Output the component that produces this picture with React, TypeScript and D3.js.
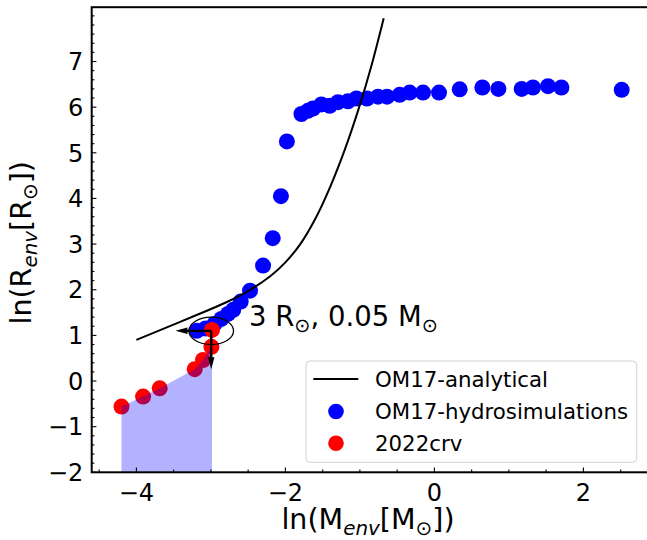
import React from "react";
import * as d3 from "d3";

// ---- data ----
const BLUE_X = [-3.19, -3.07, -2.95, -2.86, -2.77, -2.70, -2.60, -2.475, -2.30, -2.17, -2.06, -1.98,
  -1.785, -1.697, -1.630, -1.517, -1.405, -1.294, -1.160, -1.047, -0.905, -0.757, -0.636, -0.466,
  -0.332, -0.153, 0.062, 0.34, 0.644, 0.859, 1.172, 1.323, 1.525, 1.705, 2.514];
const BLUE_Y = [1.10, 1.15, 1.25, 1.36, 1.47, 1.56, 1.74, 1.98, 2.53, 3.13, 4.05, 5.25,
  5.85, 5.92, 5.97, 6.06, 6.03, 6.11, 6.13, 6.19, 6.19, 6.23, 6.23, 6.27,
  6.32, 6.32, 6.32, 6.39, 6.43, 6.40, 6.40, 6.43, 6.46, 6.43, 6.38];

const RED_X = [-4.20, -3.91, -3.687, -3.217, -3.106, -2.993, -2.985];
const RED_Y = [-0.56, -0.34, -0.16, 0.26, 0.46, 0.75, 1.12];

const LINE_X = [-4.0, -3.6, -3.2, -2.8, -2.5, -2.2, -2.0, -1.8, -1.6, -1.4, -1.2, -1.0, -0.85, -0.68];
const LINE_Y = [0.90, 1.17, 1.44, 1.72, 1.97, 2.30, 2.60, 3.00, 3.55, 4.25, 5.08, 6.05, 6.88, 7.95];

const X_TICKS = [-4, -2, 0, 2];
const Y_TICKS = [-2, -1, 0, 1, 2, 3, 4, 5, 6, 7];

const MARK_X = Math.log(0.05);
const MARK_Y = Math.log(3);
const ELLIPSE_W = 0.6;
const ELLIPSE_H = 0.6;
const ARROW_DX = -0.48;
const ARROW_DY = -0.84;

const LEGEND_LABELS = ["OM17-analytical", "OM17-hydrosimulations", "2022crv"];

const FONT = "DejaVu Sans, sans-serif";

type Part = { t: string; sub?: boolean; it?: boolean };

function rich(parts: Part[], fs: number) {
  const out: any[] = [];
  let shifted = false;
  const shift = fs * 0.2;
  parts.forEach((p, i) => {
    let dy = 0;
    if (p.sub && !shifted) { dy = shift; shifted = true; }
    else if (!p.sub && shifted) { dy = -shift; shifted = false; }
    out.push(
      <tspan key={i} dy={dy} fontSize={p.sub ? fs * 0.7 : fs} fontStyle={p.it ? "italic" : "normal"}>
        {p.t}
      </tspan>
    );
  });
  return out;
}

function arrowPoly(x0: number, y0: number, x1: number, y1: number, w: number, hw: number, hl: number) {
  const dx = x1 - x0, dy = y1 - y0;
  const L = Math.hypot(dx, dy);
  const ux = dx / L, uy = dy / L;
  const nx = -uy, ny = ux;
  const bx = x1 - ux * hl, by = y1 - uy * hl;
  const pts = [
    [x0 + nx * w / 2, y0 + ny * w / 2],
    [bx + nx * w / 2, by + ny * w / 2],
    [bx + nx * hw / 2, by + ny * hw / 2],
    [x1, y1],
    [bx - nx * hw / 2, by - ny * hw / 2],
    [bx - nx * w / 2, by - ny * w / 2],
    [x0 - nx * w / 2, y0 - ny * w / 2],
  ];
  return pts.map((p) => p.join(",")).join(" ");
}

export default function App() {
  const W = 647, H = 540;
  const left = 91.7, right = 648.2, top = 7.2, bottom = 472.3;
  const x = d3.scaleLinear().domain([-4.6, 2.87]).range([left, right]);
  const y = d3.scaleLinear().domain([-2, 8.19]).range([bottom, top]);

  const blue = BLUE_X.map((v, i) => [v, BLUE_Y[i]] as [number, number]);
  const red = RED_X.map((v, i) => [v, RED_Y[i]] as [number, number]);
  const lineD = d3.line<[number, number]>().x((d) => x(d[0])).y((d) => y(d[1])).curve(d3.curveCatmullRom)(
    LINE_X.map((v, i) => [v, LINE_Y[i]] as [number, number])
  );
  const areaD = d3.area<[number, number]>().x((d) => x(d[0])).y0(() => y(-2)).y1((d) => y(d[1]))(red);

  const xMinor = d3.range(-4.5, 2.51, 0.5);
  const yMinor = d3.range(-2, 8.19, 0.2);

  const fs = 24;
  const lab = 28.5;
  const ann = 27.5;
  const r = 8;

  const cx = x(MARK_X), cy = y(MARK_Y);
  const rx = Math.abs(x(MARK_X + ELLIPSE_W / 2) - cx);
  const ry = Math.abs(y(MARK_Y + ELLIPSE_H / 2) - cy);

  const lgX = 306, lgY = 361, lgW = 330.7, lgH = 101.3;
  const rows = [379, 411.5, 443.3];
  const lfs = 21.3;

  return (
    <svg width={W} height={H} style={{ position: "absolute", left: 0, top: 0 }} fontFamily={FONT}>
      <rect width={W} height={H} fill="white" />
      {blue.map((d, i) => (
        <circle key={"b" + i} cx={x(d[0])} cy={y(d[1])} r={r} fill="#0000ff" />
      ))}
      {red.map((d, i) => (
        <circle key={"r" + i} cx={x(d[0])} cy={y(d[1])} r={r} fill="#ff0000" />
      ))}
      <path d={areaD || ""} fill="#0000ff" fillOpacity={0.3} stroke="none" />
      <path d={lineD || ""} fill="none" stroke="black" strokeWidth={2} />
      <ellipse cx={cx} cy={cy} rx={rx} ry={ry} fill="none" stroke="black" strokeWidth={1.3} />
      <polygon points={arrowPoly(cx, cy, x(MARK_X + ARROW_DX), cy, 2.4, 6.5, 12)} fill="black" />
      <polygon points={arrowPoly(cx, cy, cx, y(MARK_Y + ARROW_DY), 2.4, 6.5, 12)} fill="black" />
      <text x={249} y={326} fontSize={ann} fill="black">
        {rich([{ t: "3 R" }, { t: "⊙", sub: true }, { t: ", 0.05 M" }, { t: "⊙", sub: true }], ann)}
      </text>

      <rect x={left} y={top} width={right - left} height={bottom - top} fill="none" stroke="black" strokeWidth={2} />
      {xMinor.map((v, i) => (
        <line key={"xm" + i} x1={x(v)} x2={x(v)} y1={bottom} y2={bottom - (Number.isInteger(v) && v % 2 === 0 ? 4.7 : 2.7)} stroke="black" strokeWidth={1.1} />
      ))}
      {X_TICKS.map((v) => (
        <text key={"xt" + v} x={x(v)} y={501} fontSize={fs} textAnchor="middle">
          {v < 0 ? "\u2212" + Math.abs(v) : String(v)}
        </text>
      ))}
      {yMinor.map((v, i) => {
        const isMaj = Math.abs(v - Math.round(v)) < 1e-6 && Y_TICKS.includes(Math.round(v));
        return (
          <line key={"ym" + i} x1={left} x2={left + (isMaj ? 4.7 : 2.7)} y1={y(v)} y2={y(v)} stroke="black" strokeWidth={1.1} />
        );
      })}
      {Y_TICKS.map((v) => (
        <text key={"yt" + v} x={83.3} y={y(v) + 8.7} fontSize={fs} textAnchor="end">
          {v < 0 ? "\u2212" + Math.abs(v) : String(v)}
        </text>
      ))}
      <text x={368} y={529} fontSize={lab} textAnchor="middle">
        {rich([{ t: "ln(M" }, { t: "env", sub: true, it: true }, { t: "[M" }, { t: "⊙", sub: true }, { t: "])" }], lab)}
      </text>
      <text transform={`translate(31,${(top + bottom) / 2 + 3}) rotate(-90)`} fontSize={lab} textAnchor="middle">
        {rich([{ t: "ln(R" }, { t: "env", sub: true, it: true }, { t: "[R" }, { t: "⊙", sub: true }, { t: "])" }], lab)}
      </text>

      <rect x={lgX} y={lgY} width={lgW} height={lgH} rx={4} fill="white" fillOpacity={0.8} stroke="#d0d0d0" strokeWidth={1} />
      <line x1={313.3} x2={358.3} y1={rows[0]} y2={rows[0]} stroke="black" strokeWidth={2} />
      <circle cx={336} cy={rows[1]} r={7.8} fill="#0000ff" />
      <circle cx={336} cy={rows[2]} r={7.8} fill="#ff0000" />
      {LEGEND_LABELS.map((t, i) => (
        <text key={t} x={375} y={rows[i] + 7.8} fontSize={lfs}>{t}</text>
      ))}
    </svg>
  );
}
